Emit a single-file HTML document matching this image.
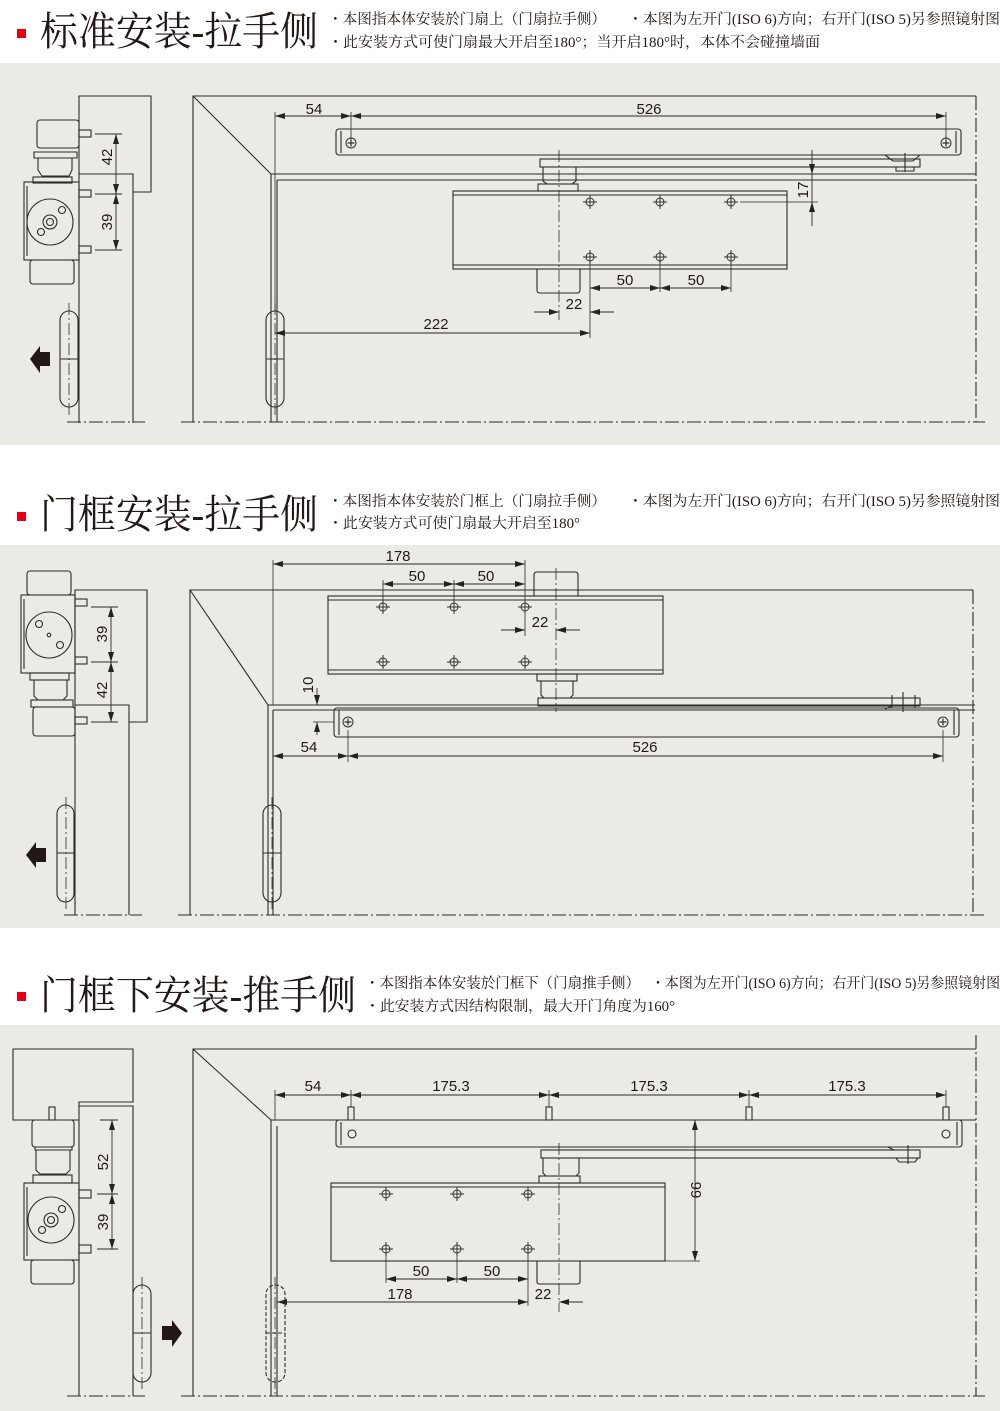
<!DOCTYPE html>
<html><head><meta charset="utf-8"><style>
html,body{margin:0;padding:0;background:#fff;width:1000px;height:1411px;overflow:hidden}
svg{display:block}
.t{font-family:"Liberation Serif","Noto Serif CJK SC",serif;fill:#231815}
.n{font-family:"Liberation Serif","Noto Serif CJK SC",serif;fill:#231815;font-size:14.5px}
.d{font-family:"Liberation Sans",sans-serif;fill:#231815;font-size:15px}
</style></head><body>
<svg width="1000" height="1411" viewBox="0 0 1000 1411" xmlns="http://www.w3.org/2000/svg">
<defs>
<marker id="a" viewBox="0 0 10 6" refX="10" refY="3" markerWidth="10" markerHeight="6" markerUnits="userSpaceOnUse" orient="auto-start-reverse"><path d="M0 0L10 3L0 6z" fill="#222"/></marker>
<g id="h"><circle r="4" fill="none" stroke="#333" stroke-width="1"/><path d="M-7 0H7M0 -7V7" stroke="#333" stroke-width="1"/></g>
<g id="sc"><circle r="5" fill="none" stroke="#333" stroke-width="1"/><path d="M-3.5 0H3.5M0 -3.5V3.5" stroke="#333" stroke-width="1.2"/></g>
</defs>

<!-- panels -->
<rect x="0" y="63" width="1000" height="382" fill="#ebeae5"/>
<rect x="0" y="545" width="1000" height="383" fill="#ebeae5"/>
<rect x="0" y="1025" width="1000" height="386" fill="#ebeae5"/>

<!-- headers -->
<rect x="17" y="29" width="9" height="9" fill="#e50012"/>
<text class="t" x="40" y="45" font-size="40" textLength="278" lengthAdjust="spacingAndGlyphs">标准安装-拉手侧</text>
<text class="n" x="328" y="24" textLength="278" lengthAdjust="spacingAndGlyphs">・本图指本体安装於门扇上（门扇拉手侧）</text>
<text class="n" x="628" y="24" textLength="372" lengthAdjust="spacingAndGlyphs">・本图为左开门(ISO 6)方向；右开门(ISO 5)另参照镜射图</text>
<text class="n" x="328" y="47" textLength="492" lengthAdjust="spacingAndGlyphs">・此安装方式可使门扇最大开启至180°；当开启180°时，本体不会碰撞墙面</text>

<rect x="17" y="512" width="9" height="9" fill="#e50012"/>
<text class="t" x="40" y="528" font-size="40" textLength="278" lengthAdjust="spacingAndGlyphs">门框安装-拉手侧</text>
<text class="n" x="328" y="506" textLength="278" lengthAdjust="spacingAndGlyphs">・本图指本体安装於门框上（门扇拉手侧）</text>
<text class="n" x="628" y="506" textLength="372" lengthAdjust="spacingAndGlyphs">・本图为左开门(ISO 6)方向；右开门(ISO 5)另参照镜射图</text>
<text class="n" x="328" y="528" textLength="252" lengthAdjust="spacingAndGlyphs">・此安装方式可使门扇最大开启至180°</text>

<rect x="17" y="992" width="9" height="9" fill="#e50012"/>
<text class="t" x="40" y="1009" font-size="40" textLength="316" lengthAdjust="spacingAndGlyphs">门框下安装-推手侧</text>
<text class="n" x="365" y="988" textLength="275" lengthAdjust="spacingAndGlyphs">・本图指本体安装於门框下（门扇推手侧）</text>
<text class="n" x="651" y="988" textLength="349" lengthAdjust="spacingAndGlyphs">・本图为左开门(ISO 6)方向；右开门(ISO 5)另参照镜射图</text>
<text class="n" x="365" y="1011" textLength="310" lengthAdjust="spacingAndGlyphs">・此安装方式因结构限制，最大开门角度为160°</text>

<g fill="none" stroke="#2b2b2b" stroke-width="1.1">
<!-- ================= SECTION 1 ================= -->
<!-- left wall / door -->
<path d="M79 423V96H151V192H133"/>
<path d="M79 174H133V423"/>
<!-- closer side view -->
<rect x="37" y="120" width="42" height="28" rx="3"/>
<path d="M34 152H77V158H34z"/>
<path d="M38 158H72V170L69 176H42L38 170z"/>
<rect x="33" y="177" width="39" height="6"/>
<rect x="24" y="182" width="55" height="78"/>
<path d="M27 186V256"/>
<circle cx="50" cy="222" r="23"/><circle cx="50" cy="222" r="7"/><circle cx="50" cy="222" r="3.5"/>
<circle cx="62" cy="210" r="3.5"/><circle cx="41" cy="232" r="3.5"/>
<rect x="30" y="260" width="44" height="24" rx="3"/>
<rect x="79" y="130" width="12" height="7"/><rect x="79" y="190" width="12" height="7"/><rect x="79" y="246" width="12" height="7"/>
<path d="M95 134H122M95 194H122M95 250H122" stroke-width="0.9"/>
<path d="M116 134V194" marker-start="url(#a)" marker-end="url(#a)" stroke-width="0.9"/>
<path d="M116 194V250" marker-start="url(#a)" marker-end="url(#a)" stroke-width="0.9"/>
<!-- hinge -->
<rect x="60" y="311" width="18" height="96" rx="9"/><path d="M60 359H78"/>
<path d="M69 303V415" stroke-dasharray="12 3 2 3" stroke-width="0.8"/>
<path d="M67 422H145" stroke-dasharray="14 3 2 3" stroke-width="0.9"/>
<!-- main plan -->
<path d="M193 422V96H976"/>
<path d="M193 96L271 174H976M271 174V422M277 180V422M277 180H976"/>
<path d="M976 96V422" stroke-dasharray="14 3 2 3"/>
<path d="M181 422H985" stroke-dasharray="14 3 2 3"/>
<rect x="266" y="311" width="18" height="96" rx="9"/><path d="M266 359H284"/>
<path d="M275 303V415" stroke-dasharray="12 3 2 3" stroke-width="0.8"/>
<!-- dims -->
<path d="M275 112V311M351 112V140" stroke-width="0.8"/>
<path d="M275 116H351" marker-start="url(#a)" marker-end="url(#a)" stroke-width="0.9"/>
<path d="M351 116H946" marker-start="url(#a)" marker-end="url(#a)" stroke-width="0.9"/>
<path d="M946 112V140" stroke-width="0.8"/>
<!-- rail -->
<rect x="336" y="129" width="625" height="26" rx="3"/><path d="M341 131V153M956 131V153"/>
<use href="#sc" x="351" y="143"/><use href="#sc" x="946" y="143"/>
<!-- arm -->
<rect x="540" y="159" width="380" height="8"/>
<path d="M885 155L893 161H913L920 155M896 167V171H914V167M905 153V172"/>
<path d="M543 167H576V181L572 184H547L543 181z"/>
<rect x="538" y="184" width="40" height="7"/>
<!-- body -->
<rect x="453" y="191" width="334" height="78"/><path d="M453 195H787M453 265H787"/>
<use href="#h" x="590" y="202"/><use href="#h" x="660" y="202"/><use href="#h" x="731" y="202"/>
<use href="#h" x="590" y="257"/><use href="#h" x="660" y="257"/><use href="#h" x="731" y="257"/>
<path d="M537 269V290Q537 293 540 293H577Q580 293 580 290V269"/>
<path d="M559 150V320" stroke-dasharray="12 3 2 3" stroke-width="0.8"/>
<path d="M590 262V338M660 262V292M731 262V292" stroke-width="0.8"/>
<path d="M590 288H660" marker-start="url(#a)" marker-end="url(#a)" stroke-width="0.9"/>
<path d="M660 288H731" marker-start="url(#a)" marker-end="url(#a)" stroke-width="0.9"/>
<path d="M534 312H559" marker-end="url(#a)" stroke-width="0.9"/><path d="M614 312H590" marker-end="url(#a)" stroke-width="0.9"/>
<path d="M275 333H590" marker-start="url(#a)" marker-end="url(#a)" stroke-width="0.9"/>
<path d="M740 202H818M790 174H818" stroke-width="0.8"/>
<path d="M812 150V174" marker-end="url(#a)" stroke-width="0.9"/><path d="M812 226V202" marker-end="url(#a)" stroke-width="0.9"/><path d="M812 174V202" stroke-width="0.9"/>

<!-- ================= SECTION 2 ================= -->
<path d="M75 915V590H147V722H129"/>
<path d="M75 705H129V915"/>
<rect x="27" y="571" width="44" height="24" rx="3"/>
<rect x="21" y="595" width="54" height="78"/><path d="M24 599V669"/>
<circle cx="49" cy="635" r="23"/><circle cx="49" cy="635" r="1.8"/><circle cx="39" cy="624" r="3.5"/><circle cx="60" cy="645" r="3.5"/>
<rect x="30" y="673" width="39" height="7"/>
<path d="M34 680H67V696L63 700H38L34 696z"/>
<rect x="31" y="700" width="42" height="7"/>
<rect x="33" y="707" width="42" height="29" rx="3"/>
<rect x="75" y="599" width="12" height="7"/><rect x="75" y="657" width="12" height="7"/><rect x="75" y="717" width="12" height="7"/>
<path d="M91 607H118M91 662H118M91 722H118" stroke-width="0.9"/>
<path d="M111 607V662" marker-start="url(#a)" marker-end="url(#a)" stroke-width="0.9"/>
<path d="M111 662V722" marker-start="url(#a)" marker-end="url(#a)" stroke-width="0.9"/>
<rect x="57" y="805" width="17" height="97" rx="8.5"/><path d="M57 853H74"/>
<path d="M66 797V910" stroke-dasharray="12 3 2 3" stroke-width="0.8"/>
<path d="M64 915H142" stroke-dasharray="14 3 2 3" stroke-width="0.9"/>
<path d="M190 915V590H973"/>
<path d="M190 590L268 705H975M268 705V915M273 710V915M273 710H975"/>
<path d="M973 590V915" stroke-dasharray="14 3 2 3"/>
<path d="M178 915H985" stroke-dasharray="14 3 2 3"/>
<rect x="263" y="805" width="18" height="97" rx="9"/><path d="M263 853H281"/>
<path d="M272 797V910" stroke-dasharray="12 3 2 3" stroke-width="0.8"/>
<path d="M273 560V705" stroke-width="0.8"/>
<path d="M273 564H525" marker-start="url(#a)" marker-end="url(#a)" stroke-width="0.9"/>
<path d="M383 580V607M454 580V607M525 560V636" stroke-width="0.8"/>
<path d="M383 584H454" marker-start="url(#a)" marker-end="url(#a)" stroke-width="0.9"/>
<path d="M454 584H525" marker-start="url(#a)" marker-end="url(#a)" stroke-width="0.9"/>
<path d="M534 596V575Q534 572 537 572H575Q578 572 578 575V596"/>
<rect x="328" y="596" width="335" height="78"/><path d="M328 600H663M328 670H663"/>
<use href="#h" x="383" y="607"/><use href="#h" x="454" y="607"/><use href="#h" x="525" y="607"/>
<use href="#h" x="383" y="662"/><use href="#h" x="454" y="662"/><use href="#h" x="525" y="662"/>
<path d="M556 568V712" stroke-dasharray="12 3 2 3" stroke-width="0.8"/>
<path d="M501 630H525" marker-end="url(#a)" stroke-width="0.9"/><path d="M580 630H556" marker-end="url(#a)" stroke-width="0.9"/>
<rect x="537" y="674" width="40" height="7"/>
<path d="M541 681H573V695L570 698H544L541 695z"/>
<rect x="538" y="698" width="382" height="8"/>
<path d="M892 695V708H915V695M903 692V712M885 709L892 706"/>
<rect x="334" y="708" width="625" height="29" rx="3"/><path d="M339 710V735M954 710V735"/>
<use href="#sc" x="348" y="722"/><use href="#sc" x="943" y="722"/>
<path d="M313 722H334" stroke-width="0.8"/>
<path d="M317 688V705" marker-end="url(#a)" stroke-width="0.9"/><path d="M317 735V722" marker-end="url(#a)" stroke-width="0.9"/>
<path d="M348 730V762M943 730V762" stroke-width="0.8"/>
<path d="M273 756H348" marker-start="url(#a)" marker-end="url(#a)" stroke-width="0.9"/>
<path d="M348 756H943" marker-start="url(#a)" marker-end="url(#a)" stroke-width="0.9"/>

<!-- ================= SECTION 3 ================= -->
<path d="M79 1120H13V1049H133V1102H79V1396"/>
<path d="M79 1106H133V1396"/>
<rect x="49" y="1107" width="6" height="13"/>
<rect x="32" y="1120" width="42" height="27" rx="3"/>
<path d="M35 1147H72V1150H35z"/>
<path d="M36 1150H70V1170L66 1174H40L36 1170z"/>
<rect x="33" y="1175" width="39" height="8"/>
<rect x="24" y="1183" width="55" height="77"/><path d="M27 1187V1256"/>
<circle cx="51" cy="1220" r="23"/><circle cx="51" cy="1220" r="7"/><circle cx="51" cy="1220" r="3.5"/>
<circle cx="62" cy="1209" r="3.5"/><circle cx="42" cy="1230" r="3.5"/>
<rect x="31" y="1260" width="43" height="24" rx="3"/>
<rect x="79" y="1190" width="12" height="8"/><rect x="79" y="1245" width="12" height="8"/>
<path d="M97 1194H118M97 1249H118M100 1120H118" stroke-width="0.9"/>
<path d="M112 1120V1194" marker-start="url(#a)" marker-end="url(#a)" stroke-width="0.9"/>
<path d="M112 1194V1249" marker-start="url(#a)" marker-end="url(#a)" stroke-width="0.9"/>
<rect x="133" y="1285" width="18" height="97" rx="9"/><path d="M133 1333H151"/>
<path d="M142 1277V1390" stroke-dasharray="12 3 2 3" stroke-width="0.8"/>
<path d="M67 1396H145" stroke-dasharray="14 3 2 3" stroke-width="0.9"/>
<path d="M193 1396V1049H976"/>
<path d="M193 1049L271 1120H976M271 1120V1396M277 1126V1396"/>
<path d="M976 1035V1396" stroke-dasharray="14 3 2 3"/>
<path d="M181 1396H985" stroke-dasharray="14 3 2 3"/>
<rect x="266" y="1285" width="19" height="97" rx="9" stroke-dasharray="4 2"/><path d="M266 1333H285" stroke-dasharray="4 2"/>
<path d="M275 1277V1396" stroke-dasharray="12 3 2 3" stroke-width="0.8"/>
<path d="M275 1090V1120" stroke-width="0.8"/>
<path d="M275 1095H351" marker-start="url(#a)" marker-end="url(#a)" stroke-width="0.9"/>
<path d="M351 1095H549" marker-start="url(#a)" marker-end="url(#a)" stroke-width="0.9"/>
<path d="M549 1095H749" marker-start="url(#a)" marker-end="url(#a)" stroke-width="0.9"/>
<path d="M749 1095H946" marker-start="url(#a)" marker-end="url(#a)" stroke-width="0.9"/>
<path d="M351 1090V1107M549 1090V1107M749 1090V1107M946 1090V1107" stroke-width="0.8"/>
<rect x="348" y="1107" width="6" height="13"/><rect x="546" y="1107" width="6" height="13"/><rect x="746" y="1107" width="6" height="13"/><rect x="943" y="1107" width="6" height="13"/>
<rect x="336" y="1120" width="626" height="27" rx="3"/><path d="M341 1122V1145M957 1122V1145"/>
<circle cx="352" cy="1134" r="4"/><circle cx="946" cy="1134" r="4"/>
<rect x="541" y="1150" width="379" height="8"/>
<path d="M888 1147L894 1150M896 1158L899 1162H915L918 1158M908 1145V1164"/>
<path d="M543 1158H579V1173L576 1176H546L543 1173z"/>
<rect x="539" y="1176" width="41" height="7"/>
<rect x="331" y="1183" width="334" height="78"/><path d="M331 1187H665"/>
<use href="#h" x="386" y="1194"/><use href="#h" x="457" y="1194"/><use href="#h" x="528" y="1194"/>
<use href="#h" x="386" y="1249"/><use href="#h" x="457" y="1249"/><use href="#h" x="528" y="1249"/>
<path d="M537 1261V1282Q537 1284 540 1284H577Q580 1284 580 1282V1261"/>
<path d="M559 1143V1312" stroke-dasharray="12 3 2 3" stroke-width="0.8"/>
<path d="M695 1120V1261" marker-start="url(#a)" marker-end="url(#a)" stroke-width="0.9"/>
<path d="M665 1261H700" stroke-width="0.8"/>
<path d="M386 1254V1283M457 1254V1283M528 1254V1306" stroke-width="0.8"/>
<path d="M386 1279H457" marker-start="url(#a)" marker-end="url(#a)" stroke-width="0.9"/>
<path d="M457 1279H528" marker-start="url(#a)" marker-end="url(#a)" stroke-width="0.9"/>
<path d="M277 1302H528" marker-start="url(#a)" marker-end="url(#a)" stroke-width="0.9"/>
<path d="M583 1302H559" marker-end="url(#a)" stroke-width="0.9"/>
</g>

<!-- direction arrows -->
<path d="M30 359L40 346V352H50V366H40V373z" fill="#231815"/>
<path d="M26 855L36 842V848H46V862H36V868z" fill="#231815"/>
<path d="M182 1333L172 1320V1326H162V1340H172V1347z" fill="#231815"/>

<!-- dimension labels -->
<g class="d">
<text x="112" y="157" transform="rotate(-90 112 157)" text-anchor="middle">42</text>
<text x="112" y="222" transform="rotate(-90 112 222)" text-anchor="middle">39</text>
<text x="314" y="114" text-anchor="middle">54</text>
<text x="649" y="114" text-anchor="middle">526</text>
<text x="808" y="190" transform="rotate(-90 808 190)" text-anchor="middle">17</text>
<text x="625" y="285" text-anchor="middle">50</text>
<text x="696" y="285" text-anchor="middle">50</text>
<text x="574" y="309" text-anchor="middle">22</text>
<text x="436" y="329" text-anchor="middle">222</text>

<text x="398" y="561" text-anchor="middle">178</text>
<text x="417" y="581" text-anchor="middle">50</text>
<text x="486" y="581" text-anchor="middle">50</text>
<text x="540" y="627" text-anchor="middle">22</text>
<text x="107" y="634" transform="rotate(-90 107 634)" text-anchor="middle">39</text>
<text x="107" y="690" transform="rotate(-90 107 690)" text-anchor="middle">42</text>
<text x="313" y="685" transform="rotate(-90 313 685)" text-anchor="middle">10</text>
<text x="309" y="752" text-anchor="middle">54</text>
<text x="645" y="752" text-anchor="middle">526</text>

<text x="108" y="1162" transform="rotate(-90 108 1162)" text-anchor="middle">52</text>
<text x="108" y="1222" transform="rotate(-90 108 1222)" text-anchor="middle">39</text>
<text x="313" y="1091" text-anchor="middle">54</text>
<text x="451" y="1091" text-anchor="middle">175.3</text>
<text x="649" y="1091" text-anchor="middle">175.3</text>
<text x="847" y="1091" text-anchor="middle">175.3</text>
<text x="691" y="1190" transform="rotate(90 691 1190)" text-anchor="middle">99</text>
<text x="421" y="1276" text-anchor="middle">50</text>
<text x="492" y="1276" text-anchor="middle">50</text>
<text x="400" y="1299" text-anchor="middle">178</text>
<text x="543" y="1299" text-anchor="middle">22</text>
</g>
</svg>
</body></html>
